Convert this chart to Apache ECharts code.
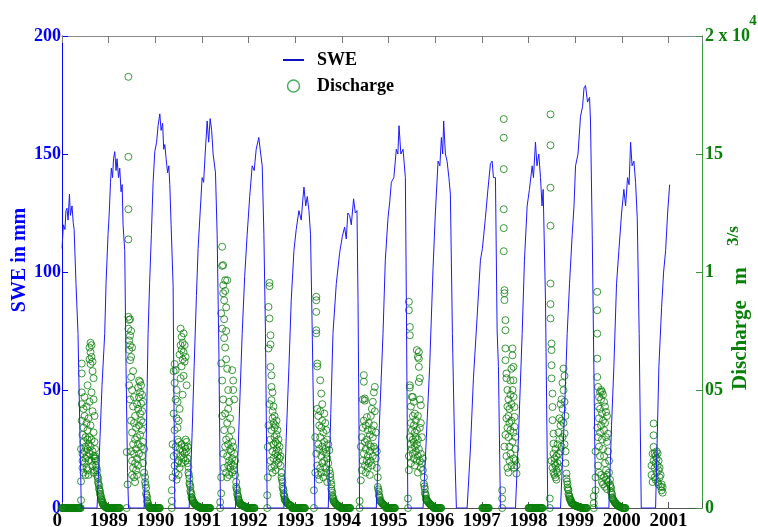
<!DOCTYPE html>
<html>
<head>
<meta charset="utf-8">
<script src="https://cdn.jsdelivr.net/npm/echarts@6/dist/echarts.min.js"></script>
<style>
  html, body { margin: 0; padding: 0; background: #fff; }
  #chart { width: 758px; height: 527px; }
</style>
</head>
<body>
<div id="chart"></div>
<script>
// x = years since start of record (1 -> 1989 tick), SWE in mm
var swe88 = [[0,110],[0.03,120],[0.064,118],[0.085,126],[0.107,127],[0.13,122],[0.16,133],[0.18,124],[0.215,128],[0.24,121],[0.26,118],[0.30,95],[0.343,74],[0.386,30],[0.414,0]];
var swe89 = [[0.751,0],[0.815,30],[0.858,52],[0.916,74],[0.944,95],[0.987,116],[1.005,122],[1.019,128],[1.04,138],[1.058,144],[1.083,140],[1.105,148],[1.131,151],[1.159,143],[1.18,148],[1.212,140],[1.238,144],[1.266,134],[1.29,137],[1.309,120],[1.345,109],[1.373,60],[1.405,15],[1.427,0]];
var swe90 = [[1.76,0],[1.803,25],[1.845,74],[1.878,95],[1.916,116],[1.953,138],[1.989,151],[2.028,155],[2.06,162],[2.097,167],[2.124,160],[2.157,163],[2.18,152],[2.204,154],[2.232,148],[2.264,142],[2.29,145],[2.311,137],[2.339,120],[2.382,94],[2.418,0]];
var swe91 = [[2.725,0],[2.768,20],[2.79,32],[2.833,60],[2.882,90],[2.918,110],[2.961,125],[3.004,140],[3.036,138],[3.069,150],[3.112,164],[3.144,155],[3.176,165],[3.208,160],[3.24,150],[3.29,142],[3.326,116],[3.363,67],[3.397,0]];
var swe92 = [[3.719,0],[3.777,25],[3.82,50],[3.863,74],[3.916,98],[3.97,116],[4.024,132],[4.077,145],[4.12,143],[4.163,152],[4.219,157],[4.26,150],[4.292,145],[4.328,116],[4.362,74],[4.399,0]];
var swe93 = [[4.757,0],[4.807,30],[4.865,60],[4.914,88],[4.972,109],[5.021,118],[5.079,126],[5.129,122],[5.16,130],[5.187,136],[5.225,128],[5.258,132],[5.294,126],[5.328,116],[5.365,74],[5.423,0]];
var swe94 = [[5.708,0],[5.762,40],[5.809,74],[5.88,95],[5.951,108],[6.009,115],[6.058,119],[6.094,114],[6.127,125],[6.165,124],[6.202,120],[6.251,131],[6.288,125],[6.324,126],[6.346,88],[6.38,0]];
var swe95 = [[6.738,0],[6.813,40],[6.882,74],[6.931,105],[6.989,123],[7.027,130],[7.06,138],[7.114,140],[7.167,152],[7.2,150],[7.225,162],[7.264,150],[7.311,152],[7.361,140],[7.382,88],[7.414,0]];
var swe96 = [[7.74,0],[7.811,30],[7.882,60],[7.955,102],[8.004,125],[8.062,147],[8.101,145],[8.133,157],[8.161,150],[8.182,164],[8.219,150],[8.255,147],[8.294,140],[8.326,133],[8.369,74],[8.418,25],[8.455,0]];
var swe97 = [[8.685,0],[8.755,25],[8.82,55],[8.899,81],[8.97,105],[9.013,110],[9.077,123],[9.131,135],[9.185,146],[9.221,147],[9.249,140],[9.292,140],[9.328,75],[9.356,60],[9.399,0]];
var swe98 = [[9.721,0],[9.785,30],[9.865,74],[9.914,105],[9.972,128],[10.021,135],[10.079,145],[10.107,140],[10.15,155],[10.182,145],[10.221,150],[10.258,140],[10.29,128],[10.315,135],[10.365,88],[10.414,0]];
var swe99 = [[10.687,0],[10.762,35],[10.83,74],[10.88,95],[10.938,116],[10.976,128],[11.009,145],[11.062,150],[11.116,166],[11.159,170],[11.191,178],[11.223,179],[11.266,172],[11.309,174],[11.33,164],[11.367,116],[11.438,0]];
var swe00 = [[11.723,0],[11.781,35],[11.831,60],[11.888,95],[11.938,109],[11.996,125],[12.045,135],[12.082,128],[12.124,140],[12.157,137],[12.189,155],[12.221,145],[12.26,147],[12.296,138],[12.332,123],[12.373,74],[12.418,0]];
var swe01 = [[12.725,0],[12.796,60],[12.854,85],[12.897,100],[12.94,109],[12.983,125],[13.026,137]];

// discharge in m3/s, grouped as [time, [values read at that time]]
var q1988 = [[0.408,[330,1130,2500]],[0.423,[6120,5700,4900,4400,3700]],[0.44,[2300,3100,2000,1700]],[0.461,[4200,2800,1500,3400]],[0.483,[3900,2400,1900,4700]],[0.504,[2600,1400,3000,2100]],[0.526,[3600,2200,1700,4300]],[0.547,[2900,1600,2500,3300,5200]],[0.569,[2000,3800,2700,1400]],[0.59,[6300,6800,4500,2300,3000]],[0.612,[6600,7000,6100,3500,2600]],[0.633,[6400,6900,4900,2900,2000]],[0.655,[6200,5800,4100,2400,1800]],[0.676,[5500,4600,3200,2200,1500]],[0.697,[3900,2800,2100,1600]],
  [0.708,[2500,2200]],[0.719,[2100]],[0.73,[2000,1800]],[0.74,[1700]],[0.751,[1600,1400]],[0.762,[1320]],[0.773,[1250,1100]],[0.783,[1020]],[0.794,[950,820]],[0.805,[760]],[0.815,[700,600]],[0.826,[540]],[0.837,[480,400]],[0.848,[360]],[0.858,[320,260]],[0.869,[230]],[0.88,[200,150]],[0.89,[125]],[0.901,[100]],[0.912,[80]],[0.923,[60]],[0.933,[45]],[0.944,[30]],[0.955,[15]]];
var q1989 = [[1.388,[0,2370]],[1.406,[1000]],[1.423,[18270,14880,12660,11380,8100,7600]],[1.438,[7970,7100,6700,5200]],[1.459,[8000,7300,6900,6260,4600]],[1.481,[7500,6400,5550,3700,2400]],[1.502,[6800,5000,3200,2000,1400]],[1.524,[5800,4300,2700,1700]],[1.545,[4700,3600,2300,1300]],[1.567,[3900,2900,1900,1100]],[1.588,[3400,2500,1600]],[1.609,[4400,3000,2100,1400]],[1.631,[5100,4200,2700,1800]],[1.652,[5400,4700,3500,2300]],[1.674,[5340,4900,4000,3100]],[1.695,[5200,4430,3700,2600]],[1.717,[4800,4100,3300,2200]],[1.738,[4500,3630,2800,1900]],[1.76,[2500,1500]],
  [1.781,[1310,1100]],[1.792,[980]],[1.803,[850,620]],[1.813,[540]],[1.824,[450,300]],[1.835,[240]],[1.845,[180,110]],[1.856,[80]],[1.867,[50]],[1.877,[25]]];
var q1990 = [[2.354,[0,750,300]],[2.371,[1300,2700]],[2.393,[5800,4000,2200]],[2.414,[6100,5300,3300,1800]],[2.436,[5840,4600,2600,1500]],[2.457,[5000,3800,2300,1200]],[2.479,[4500,3400,2900,1900]],[2.5,[3700,2800,2000,1400]],[2.521,[6500,4200,2500,1700]],[2.543,[7600,6900,5500,2200]],[2.564,[7250,6700,6000,2700,1900]],[2.586,[7000,6300,4800,2400]],[2.607,[7400,6600,5600,2100]],[2.629,[6900,6200,2600,2300]],[2.65,[6400,2900,2500,2000]],[2.672,[5200,2800,2400]],[2.693,[2600,2100,1900]],
  [2.71,[1740,1500]],[2.721,[1400]],[2.732,[1250,1050]],[2.742,[980]],[2.753,[890,720]],[2.764,[650]],[2.775,[580,460]],[2.785,[420]],[2.796,[360,326]],[2.807,[290]],[2.818,[250]],[2.829,[215]],[2.84,[190]],[2.851,[165]],[2.862,[140]],[2.873,[120]],[2.884,[105]],[2.895,[90]],[2.906,[75]],[2.917,[62]],[2.928,[50]],[2.939,[42]],[2.95,[35]],[2.961,[28]]];
var q1991 = [[3.391,[0,250]],[3.412,[620,1300,8250,6130]],[3.433,[11070,10260,7600,5400,3900]],[3.455,[10290,9440,9100,4600,2300]],[3.476,[8800,8000,7200,3300,1700]],[3.498,[9650,9200,6800,4000,2600]],[3.519,[8500,7500,6300,2900,1500]],[3.541,[9650,5900,3600,2200,1300]],[3.562,[5000,4200,2700,1800]],[3.584,[4500,3000,2000,1400]],[3.605,[3800,2500,1700]],[3.627,[3300,2400,1900]],[3.648,[5840,2800,2100,1500]],[3.67,[5400,5000,2600,1800]],[3.691,[4600,2300,1600]],[3.712,[2000,1400]],
  [3.734,[1100,900]],[3.744,[820]],[3.755,[750,600]],[3.766,[530]],[3.777,[470,380]],[3.787,[340]],[3.798,[300,230]],[3.809,[200]],[3.82,[175]],[3.83,[160]],[3.841,[140]],[3.852,[125]],[3.863,[110]],[3.874,[100]],[3.885,[88]],[3.895,[78]],[3.906,[70]],[3.917,[62]],[3.928,[54]],[3.938,[47]],[3.948,[40]]];
var q1992 = [[4.399,[0,540]],[4.412,[2590,1300]],[4.427,[8520,6760,3500]],[4.448,[9540,9400,8030,4400]],[4.47,[7320,6930,5980,2900,2000]],[4.491,[5620,5130,4570,3300,1700]],[4.513,[4900,4100,3800,2400,1500]],[4.534,[4300,3600,2700,2100]],[4.556,[3900,3400,3000,1800]],[4.577,[3500,2800,2300,1600]],[4.599,[3700,3100,2500,2000]],[4.62,[3300,2700,2200]],[4.641,[2900,2400,1900]],[4.663,[2600,2100]],[4.684,[2200,1800]],
  [4.706,[1500,1310]],[4.716,[1200]],[4.727,[1100,900]],[4.738,[820]],[4.749,[750,610]],[4.759,[540]],[4.77,[480,380]],[4.781,[340]],[4.792,[310]],[4.803,[280]],[4.813,[250]],[4.824,[215]],[4.835,[190]],[4.846,[170]],[4.856,[155]],[4.867,[140]],[4.878,[130]],[4.889,[115]],[4.9,[100]],[4.91,[90]],[4.921,[80]]];
var q1993 = [[5.401,[0,750]],[5.429,[1500,3000]],[5.451,[8950,8800,8310,7530,7400,2300]],[5.472,[6120,6000,4200,1800]],[5.494,[3900,2700,1400]],[5.515,[3500,2500,1200]],[5.536,[5410,4100,3000,1700]],[5.558,[4850,3400,2200,1500]],[5.579,[4400,3700,2600,1900]],[5.601,[3200,2400,1300]],[5.622,[4000,2800,2000]],[5.644,[3600,2500,1700]],[5.665,[3300,2300,1500]],[5.687,[2900,2100,1100]],[5.708,[2700,1900]],[5.73,[2450,1600]],
  [5.751,[1450,1310]],[5.762,[1150]],[5.773,[1000,820]],[5.783,[730]],[5.794,[650,520]],[5.805,[460]],[5.815,[400,330]],[5.826,[290]],[5.837,[260]],[5.848,[230]],[5.858,[200]],[5.869,[175]],[5.88,[150]],[5.891,[130]],[5.902,[115]],[5.912,[100]],[5.923,[90]],[5.934,[75]],[5.945,[62]],[5.955,[50]],[5.966,[40]]];
var q1994 = [[6.38,[0,300]],[6.406,[1170,2600]],[6.427,[3000,1600]],[6.449,[4600,3400,2000]],[6.47,[5630,5350,3700,2300]],[6.492,[4640,4550,2800,1800]],[6.513,[3500,2500,1500]],[6.535,[3850,2900,2000]],[6.556,[3300,2200,1700]],[6.577,[3600,2700,1900]],[6.599,[3100,2400,1400]],[6.62,[3900,2600,2000]],[6.642,[4200,3300,1800]],[6.663,[4500,3000,2200]],[6.685,[4900,3500,2600]],[6.706,[5130,4100,2500]],[6.728,[3200,2100]],[6.749,[2400,1700]],
  [6.77,[1300,890]],[6.781,[790]],[6.792,[700,560]],[6.802,[490]],[6.813,[430,340]],[6.824,[300]],[6.835,[275]],[6.845,[250]],[6.856,[220]],[6.867,[190]],[6.878,[170]],[6.888,[150]],[6.899,[130]],[6.91,[110]],[6.92,[95]],[6.931,[80]],[6.942,[60]]];
var q1995 = [[7.418,[0,400]],[7.436,[8740,8380,2200,1600]],[7.457,[7670,7320,5200,5100,3000]],[7.479,[4300,3600,2700,1900]],[7.5,[4710,3300,2500]],[7.521,[4700,3900,2900,2300]],[7.543,[4500,3500,2800,2100]],[7.564,[4000,3200,2600,1800]],[7.586,[3700,3000,2400]],[7.607,[6690,3300,2700,2000]],[7.629,[6400,3900,2900,2200,1500]],[7.65,[6610,6330,5980,5340,2500]],[7.672,[5500,4600,3400,2000]],[7.693,[4350,3600,2300,1700]],[7.715,[3000,1900]],[7.736,[2100,1600]],
  [7.758,[1300,1030]],[7.769,[920]],[7.779,[820,650]],[7.79,[580]],[7.801,[520,400]],[7.812,[360]],[7.822,[330]],[7.833,[300]],[7.844,[270]],[7.855,[240]],[7.865,[215]],[7.876,[190]],[7.887,[165]],[7.897,[145]],[7.908,[125]],[7.918,[110]],[7.929,[95]],[7.94,[80]],[7.951,[70]],[7.961,[60]]];
var q1997 = [[9.436,[0,750,400]],[9.47,[16480,15690,14360,12660,11860,10880]],[9.485,[9230,9100,8810,2600]],[9.506,[7960,7530,6760,6260,3100]],[9.528,[5700,5500,3800,2200]],[9.549,[5000,4300,3400,1700]],[9.571,[4600,3900,3000,1500]],[9.592,[4200,3600,2600,2000]],[9.614,[5400,4800,3300,2300]],[9.635,[5900,4400,3700,1800]],[9.657,[6760,6470,5000,2800]],[9.678,[5980,5410,4710,3200,2100]],[9.7,[4280,3860,3440,1700]],[9.721,[3010,2500,2020]],[9.743,[1460,1800]]];
var q1998 = [[10.457,[0,400]],[10.472,[16680,15370,13570,11960,9510,8640,8030]],[10.494,[6970,6690,6050,5490,2000]],[10.515,[4850,4280,3720,1700]],[10.536,[3150,2730,2300,1500]],[10.558,[2100,1900,1400]],[10.579,[2500,1800,1300]],[10.601,[2200,1600,1200]],[10.622,[2700,1900,1500]],[10.644,[3200,2300,1700]],[10.665,[3800,2900,2000]],[10.687,[4400,3500,2400]],[10.708,[4600,3700,2600]],[10.73,[5300,4200,3000]],[10.751,[5910,4990,3600]],[10.773,[5600,4500,3160,2700]],[10.794,[3900,2400,1900]],
  [10.815,[1460,1250]],[10.826,[1120]],[10.837,[1000,870]],[10.848,[800]],[10.858,[750,600]],[10.869,[540]],[10.88,[480,400]],[10.891,[370]],[10.901,[340]],[10.912,[326,250]],[10.923,[220]],[10.933,[200]],[10.944,[180]],[10.955,[165]],[10.966,[150]],[10.976,[135]],[10.987,[120]],[10.998,[110]],[11.009,[100]],[11.019,[90]],[11.03,[80]],[11.041,[72]],[11.052,[64]],[11.062,[57]],[11.073,[50]],[11.084,[44]],[11.095,[38]],[11.105,[34]],[11.116,[30]],[11.127,[20]]];
var q1999 = [[11.4,[0,200,500]],[11.438,[750,1300,2400]],[11.474,[9160,8380,7390,6330,5550,3400]],[11.491,[5130,4300,3000,1800]],[11.512,[4700,3800,2600,1500]],[11.534,[4920,4200,3200,2200]],[11.555,[5000,4600,3500,1400]],[11.577,[4920,4000,2900,1100]],[11.598,[4800,3700,2500,1000]],[11.62,[4500,3300,2200,1300]],[11.641,[4300,3600,1900,900]],[11.663,[4070,3000,1600,1200]],[11.684,[3900,2800,1400,800]],[11.705,[3150,2400,1100]],[11.727,[2000,1500]],
  [11.749,[1200,1000]],[11.759,[920]],[11.77,[850,700]],[11.781,[630]],[11.792,[560,450]],[11.803,[400]],[11.813,[365]],[11.824,[330]],[11.835,[290]],[11.846,[255]],[11.856,[225]],[11.867,[200]],[11.878,[175]],[11.889,[150]],[11.899,[130]],[11.91,[110]],[11.921,[95]],[11.931,[82]],[11.942,[70]],[11.953,[60]],[11.964,[50]],[11.974,[42]],[11.985,[36]],[11.996,[30]]];
var q2000 = [[12.639,[1800,1400]],[12.661,[2300,1100]],[12.682,[3580,3080,2590,2000]],[12.704,[2310,1700,1300]],[12.725,[2200,1900,1200]],[12.747,[2400,2100,1500]],[12.768,[2310,1800,1100]],[12.79,[2000,1600,1000]],[12.811,[1700,1300]],[12.833,[1400,900]],[12.854,[1000,750]],[12.876,[880,650]]];

// days with zero discharge (winter), times only
var zero1988a = [0,0.01,0.02,0.03,0.04,0.05,0.06,0.07,0.08,0.09,0.1,0.11,0.12,0.13,0.14,0.15,0.16,0.17,0.18,0.19,0.2,0.21,0.22,0.23,0.24,0.25,0.26,0.27,0.28,0.29,0.3,0.31,0.32,0.33,0.34,0.35,0.36,0.37,0.38,0.39,0.4];
var zero1988b = [0.96,0.97,0.98,0.99,1,1.01,1.02,1.03,1.04,1.05,1.06,1.07,1.08,1.09,1.1,1.11,1.12,1.13,1.14,1.15,1.16,1.17,1.18,1.19,1.2,1.21,1.22,1.23,1.24];
var zero1989 = [1.88,1.89,1.9,1.91,1.92,1.93,1.94,1.95,1.96,1.97,1.98,1.99,2,2.01,2.02,2.03,2.04,2.05,2.06,2.07,2.08,2.09,2.1];
var zero1990 = [2.97,2.98,2.99,3,3.01,3.02,3.03,3.04,3.05,3.06,3.07,3.08,3.09,3.1,3.11,3.12,3.13,3.14,3.15,3.16,3.17,3.18];
var zero1991 = [3.96,3.97,3.98,3.99,4,4.01,4.02,4.03,4.04,4.05,4.06,4.07,4.08,4.09,4.1,4.11,4.12,4.13];
var zero1992 = [4.93,4.94,4.95,4.96,4.97,4.98,4.99,5,5.01,5.02,5.03,5.04,5.05,5.06,5.07,5.08,5.09,5.1,5.11,5.12,5.13,5.14,5.15,5.16,5.17,5.18,5.19,5.2,5.21];
var zero1993 = [5.98,5.99,6,6.01,6.02,6.03,6.04,6.05,6.06,6.07,6.08,6.09,6.1,6.11,6.12,6.13,6.14,6.15,6.16,6.17,6.18];
var zero1994 = [6.95,6.96,6.97,6.98,6.99,7,7.01,7.02,7.03,7.04,7.05,7.06,7.07,7.08,7.09,7.1,7.11,7.12,7.13,7.14];
var zero1995 = [7.97,7.98,7.99,8,8.01,8.02,8.03,8.04,8.05,8.06,8.07,8.08,8.09,8.1,8.11,8.12,8.13];
var zero1996 = [9.01,9.02,9.03,9.04,9.05,9.06,9.07,9.08,9.09,9.1,9.11,9.12,9.13,9.14,9.15];
var zero1997 = [10,10.01,10.02,10.03,10.04,10.05,10.06,10.07,10.08,10.09,10.1,10.11,10.12,10.13,10.14,10.15,10.16,10.17,10.18,10.19,10.2,10.21,10.22,10.23,10.24,10.25,10.26,10.27,10.28,10.29,10.3];
var zero1998 = [11.13,11.14,11.15,11.16,11.17,11.18,11.19,11.2,11.21,11.22,11.23,11.24,11.25];
var zero1999 = [12.01,12.02,12.03,12.04,12.05,12.06,12.07,12.08];

var yearLabels = ['0','1989','1990','1991','1992','1993','1994','1995','1996','1997','1998','1999','2000','2001'];
var qTickLabels = {0: '0', 5000: '05', 10000: '1', 15000: '15', 20000: '2 x 10'};

var blue = '#0000ff';
var green = '#0a7f0a';
var serif = '"Liberation Serif", "Times New Roman", serif';

function expand(cols) {
  var out = [];
  cols.forEach(function (c) {
    c[1].forEach(function (q) { out.push([c[0], q]); });
  });
  return out;
}
function zeros(times) {
  return times.map(function (t) { return [t, 0]; });
}

var sweData = [].concat(swe88, swe89, swe90, swe91, swe92, swe93, swe94, swe95, swe96, swe97, swe98, swe99, swe00, swe01);
var qData = [].concat(
  zeros(zero1988a), expand(q1988), zeros(zero1988b),
  expand(q1989), zeros(zero1989),
  expand(q1990), zeros(zero1990),
  expand(q1991), zeros(zero1991),
  expand(q1992), zeros(zero1992),
  expand(q1993), zeros(zero1993),
  expand(q1994), zeros(zero1994),
  expand(q1995), zeros(zero1995),
  zeros(zero1996),
  expand(q1997), zeros(zero1997),
  expand(q1998), zeros(zero1998),
  expand(q1999), zeros(zero1999),
  expand(q2000));

var myChart = echarts.init(document.getElementById('chart'), null, { renderer: 'canvas' });

var option = {
  animation: false,
  backgroundColor: '#fff',
  grid: { left: 62, right: 56, top: 36, bottom: 19, containLabel: false, outerBoundsMode: 'none' },
  legend: {
    orient: 'vertical',
    left: 282,
    top: 51,
    padding: 0,
    itemWidth: 21,
    itemHeight: 12,
    itemGap: 8,
    textStyle: { fontFamily: serif, fontWeight: 'bold', fontSize: 18, color: '#000', padding: [0, 0, 0, 8] },
    data: [
      { name: 'SWE', lineStyle: { width: 2, color: '#1010c0' }, itemStyle: { opacity: 0 } },
      { name: 'Discharge', itemStyle: { color: 'rgba(0,0,0,0)', borderColor: '#1f9a3a', borderWidth: 1.5 } }
    ]
  },
  xAxis: [
    {
      type: 'value', min: 0, max: 13.72, interval: 1, position: 'bottom',
      axisLine: { onZero: false, lineStyle: { color: '#555', width: 1 } },
      axisTick: { inside: true, length: 6, lineStyle: { color: '#555' } },
      splitLine: { show: false },
      axisLabel: {
        margin: 4, color: '#000', fontFamily: serif, fontWeight: 'bold', fontSize: 19,
        alignMinLabel: 'right',
        formatter: function (v) {
          return Math.abs(v - Math.round(v)) < 1e-6 && yearLabels[Math.round(v)] !== undefined ? yearLabels[Math.round(v)] : '';
        }
      }
    },
    {
      type: 'value', min: 0, max: 13.72, interval: 1, position: 'top',
      axisLine: { onZero: false, lineStyle: { color: '#888', width: 1 } },
      axisTick: { inside: true, length: 7, lineStyle: { color: '#777' } },
      axisLabel: { show: false },
      splitLine: { show: false }
    }
  ],
  yAxis: [
    {
      type: 'value', min: 0, max: 200, interval: 50, position: 'left',
      axisLine: { show: true, onZero: false, lineStyle: { color: blue, width: 1 } },
      axisTick: { show: true, inside: true, length: 6, lineStyle: { color: blue } },
      splitLine: { show: false },
      axisLabel: { margin: 1, color: blue, fontFamily: serif, fontWeight: 'bold', fontSize: 18 }
    },
    {
      type: 'value', min: 0, max: 20000, interval: 5000, position: 'right',
      axisLine: { show: true, onZero: false, lineStyle: { color: '#3a9a3a', width: 1 } },
      axisTick: { show: true, inside: true, length: 6, lineStyle: { color: '#3a9a3a' } },
      splitLine: { show: false },
      axisLabel: {
        margin: 3, color: green, fontFamily: serif, fontWeight: 'bold', fontSize: 18,
        formatter: function (v) { return qTickLabels[v] !== undefined ? qTickLabels[v] : ''; }
      }
    }
  ],
  graphic: [
    { type: 'text', x: 20, y: 260, rotation: Math.PI / 2,
      style: { text: 'SWE in mm', font: 'bold 20px ' + serif, fill: blue, align: 'center', verticalAlign: 'middle', textAlign: 'center', textVerticalAlign: 'middle' } },
    { type: 'text', x: 740.5, y: 345, rotation: Math.PI / 2,
      style: { text: 'Discharge', font: 'bold 21px ' + serif, fill: green, align: 'center', verticalAlign: 'middle', textAlign: 'center', textVerticalAlign: 'middle' } },
    { type: 'text', x: 741, y: 276, rotation: Math.PI / 2,
      style: { text: 'm', font: 'bold 21px ' + serif, fill: green, align: 'center', verticalAlign: 'middle', textAlign: 'center', textVerticalAlign: 'middle' } },
    { type: 'text', x: 734, y: 236, rotation: Math.PI / 2,
      style: { text: '3/s', font: 'bold 17px ' + serif, fill: green, align: 'center', verticalAlign: 'middle', textAlign: 'center', textVerticalAlign: 'middle' } },
    { type: 'text', x: 753, y: 21,
      style: { text: '4', font: 'bold 15px ' + serif, fill: green, align: 'center', verticalAlign: 'middle', textAlign: 'center', textVerticalAlign: 'middle' } }
  ],
  series: [
    {
      name: 'SWE', type: 'line', xAxisIndex: 0, yAxisIndex: 0,
      data: sweData, symbol: 'none', showSymbol: false,
      lineStyle: { color: '#1a1aff', width: 1 }, itemStyle: { color: blue }
    },
    {
      name: 'Discharge', type: 'scatter', xAxisIndex: 0, yAxisIndex: 1,
      data: qData, symbol: 'circle', symbolSize: 7,
      itemStyle: { color: 'rgba(0,0,0,0)', borderColor: '#0a800a', borderWidth: 1 }
    }
  ]
};

myChart.setOption(option);
</script>
</body>
</html>
